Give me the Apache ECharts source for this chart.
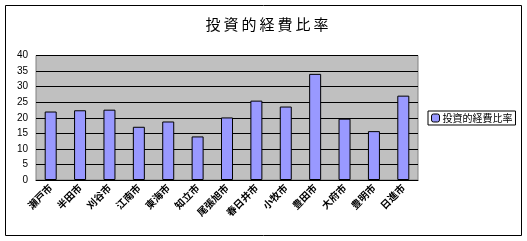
<!DOCTYPE html>
<html><head><meta charset="utf-8">
<script src="https://cdn.jsdelivr.net/npm/echarts@6/dist/echarts.min.js"></script>
<style>html,body{margin:0;padding:0;background:#fff}#c{width:527px;height:241px}</style>
</head><body><div id="c"></div>
<script>
const categories = ['瀬戸市','半田市','刈谷市','江南市','東海市','知立市','尾張旭市','春日井市','小牧市','豊田市','大府市','豊明市','日進市'];
const values = [22.0, 22.4, 22.6, 17.1, 18.8, 14.0, 20.1, 25.5, 23.6, 34.1, 19.7, 15.7, 27.1];
const seriesName = '投資的経費比率';
const titleText = '投資的経費比率';

const font = '"Noto Sans CJK JP", sans-serif';
const spaced = s => s.split('').join('\u2009');
const chart = echarts.init(document.getElementById('c'));
chart.setOption({
  animation: false,
  title: {text: spaced(titleText), left: 262, top: 12, textAlign: 'center',
    textStyle: {fontFamily: font, fontSize: 15, fontWeight: 'normal', color: '#000'}},
  graphic: [{type: 'rect', shape: {x: 5.5, y: 5.5, width: 516, height: 230},
    style: {fill: null, stroke: '#000', lineWidth: 1}, z: -1}],
  legend: {data: [seriesName], left: 428, top: 111, orient: 'vertical',
    itemWidth: 8, itemHeight: 8, itemGap: 0, padding: [2, 3, 2, 3],
    borderColor: '#000', borderWidth: 1,
    textStyle: {fontFamily: font, fontSize: 10, color: '#000', padding: [0, 0, 0, -2]},
    itemStyle: {borderColor: '#000', borderWidth: 1}},
  grid: {left: 36, right: 109, top: 55.5, bottom: 61, show: true,
    backgroundColor: '#c0c0c0', borderColor: '#808080', borderWidth: 1},
  xAxis: {type: 'category', data: categories,
    axisLine: {lineStyle: {color: '#000', width: 1}},
    axisTick: {inside: true, length: 3, lineStyle: {color: '#000'}},
    axisLabel: {rotate: 45, interval: 0, fontFamily: font, fontSize: 10, color: '#000', fontWeight: 'bold', margin: 6}},
  yAxis: {type: 'value', min: 0, max: 40, interval: 5,
    axisLine: {show: false}, axisTick: {show: false},
    axisLabel: {fontFamily: '"Liberation Sans", sans-serif', fontSize: 10, color: '#000', margin: 8},
    splitLine: {lineStyle: {color: '#000', width: 1}}},
  series: [{name: seriesName, type: 'bar', data: values, barWidth: 12,
    itemStyle: {color: '#9999ff', borderColor: '#000', borderWidth: 1}}]
});
</script></body></html>
